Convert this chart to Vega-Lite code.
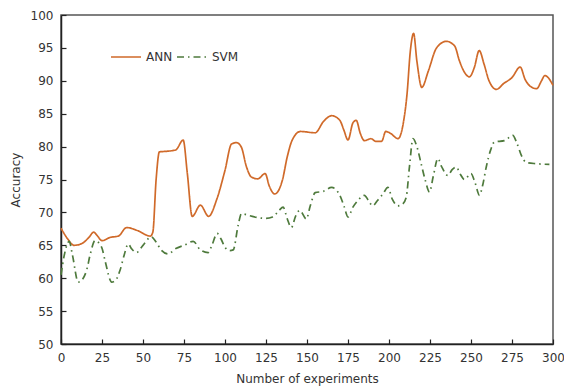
{
  "$schema": "https://vega.github.io/schema/vega-lite/v6.json",
  "width": 492,
  "height": 329,
  "autosize": {"type": "none"},
  "padding": {"left": 61, "top": 15, "right": 11, "bottom": 43},
  "background": "white",
  "config": {
    "font": "DejaVu Sans",
    "view": {"stroke": "#555", "strokeWidth": 1.5},
    "axis": {"grid": false, "labelFlush": false, "labelFont": "DejaVu Sans", "titleFont": "DejaVu Sans", "labelFontSize": 12, "titleFontSize": 12, "labelColor": "#333", "titleColor": "#333", "titleFontWeight": "normal", "domainColor": "#222", "domainWidth": 1.5, "tickColor": "#222", "tickWidth": 1.2}
  },
  "data": {"values": [
    {"x":0,"y":67.6,"s":"ANN"},{"x":4,"y":66,"s":"ANN"},{"x":8,"y":65,"s":"ANN"},{"x":13,"y":65.3,"s":"ANN"},{"x":17,"y":66.2,"s":"ANN"},{"x":20,"y":67,"s":"ANN"},{"x":22,"y":66.5,"s":"ANN"},{"x":25,"y":65.7,"s":"ANN"},{"x":30,"y":66.2,"s":"ANN"},{"x":35,"y":66.4,"s":"ANN"},{"x":40,"y":67.7,"s":"ANN"},{"x":47,"y":67.2,"s":"ANN"},{"x":54.5,"y":66.4,"s":"ANN"},{"x":56,"y":67,"s":"ANN"},{"x":58,"y":75,"s":"ANN"},{"x":60,"y":79.2,"s":"ANN"},{"x":65,"y":79.3,"s":"ANN"},{"x":70,"y":79.5,"s":"ANN"},{"x":74.5,"y":81,"s":"ANN"},{"x":77,"y":76,"s":"ANN"},{"x":80,"y":69.4,"s":"ANN"},{"x":85,"y":71.1,"s":"ANN"},{"x":90,"y":69.4,"s":"ANN"},{"x":95,"y":72,"s":"ANN"},{"x":100,"y":76.4,"s":"ANN"},{"x":104,"y":80.4,"s":"ANN"},{"x":107,"y":80.6,"s":"ANN"},{"x":110,"y":79.9,"s":"ANN"},{"x":113,"y":77,"s":"ANN"},{"x":116,"y":75.4,"s":"ANN"},{"x":120,"y":75.1,"s":"ANN"},{"x":124.5,"y":75.9,"s":"ANN"},{"x":127,"y":74,"s":"ANN"},{"x":130.3,"y":72.8,"s":"ANN"},{"x":135,"y":74.9,"s":"ANN"},{"x":138,"y":78.5,"s":"ANN"},{"x":141,"y":81,"s":"ANN"},{"x":146,"y":82.3,"s":"ANN"},{"x":155,"y":82.1,"s":"ANN"},{"x":160,"y":83.8,"s":"ANN"},{"x":165,"y":84.7,"s":"ANN"},{"x":170,"y":84,"s":"ANN"},{"x":172.5,"y":82.5,"s":"ANN"},{"x":175,"y":81,"s":"ANN"},{"x":178,"y":83.6,"s":"ANN"},{"x":180,"y":84,"s":"ANN"},{"x":182.5,"y":82,"s":"ANN"},{"x":185,"y":80.9,"s":"ANN"},{"x":189,"y":81.2,"s":"ANN"},{"x":192,"y":80.8,"s":"ANN"},{"x":195.5,"y":80.8,"s":"ANN"},{"x":198,"y":82.3,"s":"ANN"},{"x":201,"y":82,"s":"ANN"},{"x":205.5,"y":81.2,"s":"ANN"},{"x":209,"y":84,"s":"ANN"},{"x":211,"y":88,"s":"ANN"},{"x":213,"y":94.5,"s":"ANN"},{"x":215,"y":97.2,"s":"ANN"},{"x":217,"y":93,"s":"ANN"},{"x":220,"y":89,"s":"ANN"},{"x":224,"y":91.5,"s":"ANN"},{"x":229,"y":95,"s":"ANN"},{"x":235,"y":96,"s":"ANN"},{"x":240,"y":95.3,"s":"ANN"},{"x":243,"y":93,"s":"ANN"},{"x":246,"y":91.3,"s":"ANN"},{"x":249,"y":90.6,"s":"ANN"},{"x":252,"y":92,"s":"ANN"},{"x":255,"y":94.6,"s":"ANN"},{"x":258,"y":92.5,"s":"ANN"},{"x":261,"y":90,"s":"ANN"},{"x":265.5,"y":88.7,"s":"ANN"},{"x":270,"y":89.6,"s":"ANN"},{"x":275,"y":90.5,"s":"ANN"},{"x":280,"y":92.1,"s":"ANN"},{"x":283,"y":90.2,"s":"ANN"},{"x":286,"y":89.2,"s":"ANN"},{"x":290,"y":88.8,"s":"ANN"},{"x":293,"y":90,"s":"ANN"},{"x":295,"y":90.8,"s":"ANN"},{"x":297,"y":90.5,"s":"ANN"},{"x":300,"y":89.3,"s":"ANN"},
    {"x":0,"y":60.5,"s":"SVM"},{"x":2,"y":63.5,"s":"SVM"},{"x":5,"y":65.6,"s":"SVM"},{"x":7,"y":63.5,"s":"SVM"},{"x":10.5,"y":59.4,"s":"SVM"},{"x":13,"y":59.8,"s":"SVM"},{"x":15.6,"y":61.2,"s":"SVM"},{"x":18,"y":63.8,"s":"SVM"},{"x":20.7,"y":65.7,"s":"SVM"},{"x":24.8,"y":64.7,"s":"SVM"},{"x":27,"y":62.5,"s":"SVM"},{"x":30.9,"y":59.4,"s":"SVM"},{"x":33,"y":59.6,"s":"SVM"},{"x":36,"y":61.2,"s":"SVM"},{"x":38.5,"y":63.5,"s":"SVM"},{"x":41,"y":65.2,"s":"SVM"},{"x":43,"y":64.5,"s":"SVM"},{"x":46,"y":63.9,"s":"SVM"},{"x":50,"y":65,"s":"SVM"},{"x":55,"y":66.3,"s":"SVM"},{"x":58,"y":65.5,"s":"SVM"},{"x":61,"y":64.3,"s":"SVM"},{"x":65.3,"y":63.7,"s":"SVM"},{"x":70,"y":64.5,"s":"SVM"},{"x":75,"y":65,"s":"SVM"},{"x":80.6,"y":65.6,"s":"SVM"},{"x":85,"y":64.3,"s":"SVM"},{"x":89.7,"y":63.9,"s":"SVM"},{"x":92,"y":65,"s":"SVM"},{"x":95.2,"y":66.8,"s":"SVM"},{"x":97.5,"y":66,"s":"SVM"},{"x":100,"y":64.7,"s":"SVM"},{"x":103,"y":64.2,"s":"SVM"},{"x":105,"y":64.3,"s":"SVM"},{"x":108,"y":68,"s":"SVM"},{"x":110,"y":69.8,"s":"SVM"},{"x":115,"y":69.5,"s":"SVM"},{"x":120,"y":69.2,"s":"SVM"},{"x":125,"y":69.1,"s":"SVM"},{"x":129,"y":69.3,"s":"SVM"},{"x":133,"y":70.3,"s":"SVM"},{"x":135.4,"y":70.8,"s":"SVM"},{"x":138,"y":69,"s":"SVM"},{"x":140.5,"y":67.7,"s":"SVM"},{"x":143,"y":69.4,"s":"SVM"},{"x":145.6,"y":70.3,"s":"SVM"},{"x":149.6,"y":69,"s":"SVM"},{"x":152,"y":71,"s":"SVM"},{"x":155,"y":73,"s":"SVM"},{"x":160,"y":73.2,"s":"SVM"},{"x":165,"y":73.8,"s":"SVM"},{"x":170,"y":72.6,"s":"SVM"},{"x":172.5,"y":71,"s":"SVM"},{"x":175,"y":69.3,"s":"SVM"},{"x":178,"y":70.8,"s":"SVM"},{"x":181,"y":71.8,"s":"SVM"},{"x":185,"y":72.6,"s":"SVM"},{"x":187.5,"y":71.8,"s":"SVM"},{"x":190,"y":71,"s":"SVM"},{"x":193,"y":71.8,"s":"SVM"},{"x":196.3,"y":72.8,"s":"SVM"},{"x":199.3,"y":73.8,"s":"SVM"},{"x":202,"y":72,"s":"SVM"},{"x":205.4,"y":71,"s":"SVM"},{"x":208,"y":71.2,"s":"SVM"},{"x":210.5,"y":72.3,"s":"SVM"},{"x":212.5,"y":77,"s":"SVM"},{"x":214.6,"y":81.2,"s":"SVM"},{"x":217,"y":80,"s":"SVM"},{"x":219.6,"y":77.4,"s":"SVM"},{"x":222,"y":75,"s":"SVM"},{"x":224.7,"y":73.1,"s":"SVM"},{"x":227,"y":75.5,"s":"SVM"},{"x":229.8,"y":78.2,"s":"SVM"},{"x":232,"y":77,"s":"SVM"},{"x":235.9,"y":75.6,"s":"SVM"},{"x":238.5,"y":76.5,"s":"SVM"},{"x":241,"y":76.9,"s":"SVM"},{"x":243.5,"y":75.8,"s":"SVM"},{"x":246,"y":75,"s":"SVM"},{"x":250,"y":75.9,"s":"SVM"},{"x":252.5,"y":74.5,"s":"SVM"},{"x":255.2,"y":72.6,"s":"SVM"},{"x":257,"y":74,"s":"SVM"},{"x":259.3,"y":76.9,"s":"SVM"},{"x":262,"y":79.5,"s":"SVM"},{"x":264.3,"y":80.7,"s":"SVM"},{"x":270.4,"y":80.9,"s":"SVM"},{"x":275.5,"y":81.7,"s":"SVM"},{"x":278,"y":80.5,"s":"SVM"},{"x":281,"y":78.5,"s":"SVM"},{"x":283.6,"y":77.6,"s":"SVM"},{"x":289.7,"y":77.4,"s":"SVM"},{"x":297.8,"y":77.3,"s":"SVM"}
  ]},
  "mark": {"type": "line", "interpolate": "monotone", "strokeWidth": 1.7},
  "encoding": {
    "x": {"field": "x", "type": "quantitative", "scale": {"domain": [0, 300], "nice": false},
      "axis": {"values": [0,25,50,75,100,125,150,175,200,225,250,275,300], "title": "Number of experiments", "tickSize": -5, "labelPadding": 13, "titlePadding": 10}},
    "y": {"field": "y", "type": "quantitative", "scale": {"domain": [50, 100], "nice": false, "zero": false},
      "axis": {"values": [50,55,60,65,70,75,80,85,90,95,100], "title": "Accuracy", "tickSize": -5, "labelPadding": 13, "titlePadding": 8}},
    "color": {"field": "s", "type": "nominal", "scale": {"domain": ["ANN", "SVM"], "range": ["#d06a2a", "#4e7a3c"]},
      "legend": {"title": null, "orient": "none", "legendX": 49, "legendY": 26, "direction": "horizontal", "symbolType": "stroke", "symbolSize": 900, "symbolStrokeWidth": 1.7, "labelFontSize": 12, "labelColor": "#333", "labelOffset": 4, "columnPadding": 0, "labelFont": "DejaVu Sans"}},
    "strokeDash": {"field": "s", "type": "nominal", "scale": {"domain": ["ANN", "SVM"], "range": [[1, 0], [7, 4, 1.5, 4]]}}
  }
}
